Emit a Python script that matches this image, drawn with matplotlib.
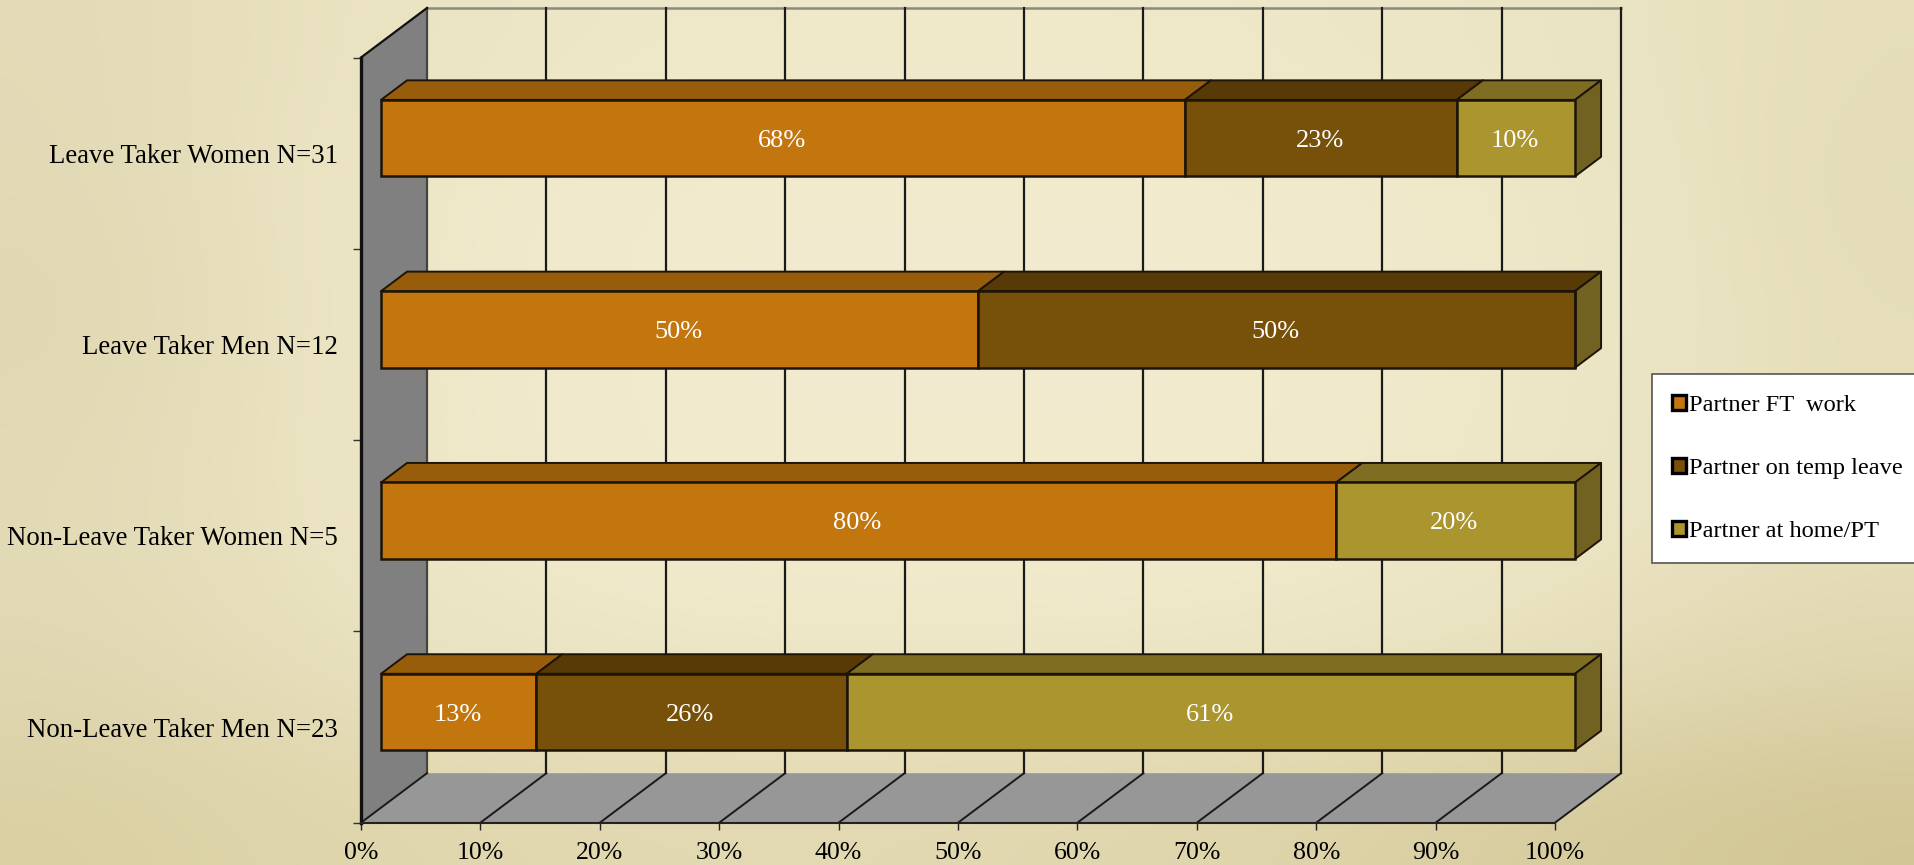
import numpy as np
import matplotlib
matplotlib.use("Agg")
import matplotlib.pyplot as plt
from matplotlib.patches import Polygon, Patch
from matplotlib.ticker import FixedLocator, FixedFormatter, NullFormatter
from matplotlib.colors import to_rgb

categories = ["Non-Leave Taker Men N=23", "Non-Leave Taker Women N=5",
              "Leave Taker Men N=12", "Leave Taker Women N=31"]
series_names = ["Partner FT  work", "Partner on temp leave", "Partner at home/PT"]
partner_ft = [13, 80, 50, 68]
partner_temp = [26, 0, 50, 23]
partner_home = [61, 20, 0, 10]
x_ticks = [0, 10, 20, 30, 40, 50, 60, 70, 80, 90, 100]

front_colors = ["#C4760E", "#77500A", "#AB952E"]
top_colors = ["#985D0B", "#583A06", "#7F6E22"]
side_color = "#716222"
edge = "#1c1408"
bg_rows = [
    ["#e3dbb7", "#e8e0bd", "#ece5c4", "#eee7c7", "#efe8c9", "#efe8c9", "#efe8c9", "#eee7c7", "#ede6c5", "#eae3c1", "#e6debb"],
    ["#e2d9b5", "#e9e1bf", "#efe8c9", "#f1eacd", "#f2ebce", "#f2ebce", "#f2ebce", "#f1eacd", "#efe8c9", "#ece5c3", "#e4dcb8"],
    ["#e0d7b2", "#e8e0bd", "#efe8c9", "#f1eacd", "#f2ebcf", "#f2ebcf", "#f2ebcf", "#f1eacd", "#efe8c9", "#ece5c4", "#e6debb"],
    ["#e2d9b5", "#e9e1be", "#efe8c9", "#f1eacd", "#f2ebce", "#f2ebce", "#f2ebce", "#f1eacd", "#efe8c8", "#ebe4c2", "#e6debb"],
    ["#e3dab6", "#e9e1be", "#eee7c7", "#f0e9cb", "#f1eacc", "#f1eacc", "#f1eacc", "#f0e9cb", "#eee7c6", "#eae2c0", "#e5ddb9"],
    ["#e0d7b2", "#e5ddb9", "#e9e2c0", "#ece5c4", "#ede6c6", "#ede6c6", "#ece5c5", "#ebe4c2", "#e8e0bd", "#e3dab5", "#dfd5ae"],
    ["#dad0a3", "#ded4a9", "#e0d7ae", "#e1d8b0", "#e2d9b2", "#e1d8b0", "#e0d6ad", "#ddd3a7", "#d9cea1", "#d5ca9a", "#d2c695"],
]

W, H = 1915, 865
plt.rcParams["font.family"] = ["Liberation Serif", "DejaVu Serif"]
fig = plt.figure(figsize=(W / 100, H / 100), dpi=100)

bg = fig.add_axes([0, 0, 1, 1], zorder=0)
bg.imshow([[to_rgb(c) for c in r] for r in bg_rows], aspect="auto", interpolation="bicubic")
bg.axis("off")

L, R, B, T = 361.0, 1555.0, 822.7, 57.5
ax = fig.add_axes([L / W, 1 - B / H, (R - L) / W, (B - T) / H], zorder=1)
ax.patch.set_alpha(0)
ax.set_xlim(0, 100)
ax.set_ylim(0, 4)

DX = 66 / (R - L) * 100      # full depth of the 3-D box, x units
DY = 49.5 / (B - T) * 4      # full depth of the 3-D box, y units
bar_front, bar_depth, bar_h = 0.303, 0.395, 0.40
line = "#1a1a1a"


def poly(pts, fc, ec="none", lw=0, z=2):
    ax.add_patch(Polygon(pts, closed=True, facecolor=fc, edgecolor=ec, linewidth=lw,
                         zorder=z, clip_on=False, joinstyle="round"))


# walls and floor
poly([(0, 0), (DX, DY), (DX, 4 + DY), (0, 4)], "#808080")
poly([(0, 0), (100, 0), (100 + DX, DY), (DX, DY)], "#979797")
for v in x_ticks:
    ax.plot([v + DX, v + DX], [DY, 4 + DY], color=line if v else "#444444",
            lw=1.6, zorder=2.2, clip_on=False)
    ax.plot([v, v + DX], [0, DY], color=line, lw=1.4, zorder=2.2, clip_on=False)
ax.plot([DX, 100 + DX], [4 + DY, 4 + DY], color="#8a8a84", lw=1.8, zorder=2.1, clip_on=False)
ax.plot([0, DX], [4, 4 + DY], color="#111111", lw=1.6, zorder=2.3, clip_on=False)

# stacked 3-D bars, each row normalised to 100 %
series = np.array([partner_ft, partner_temp, partner_home], dtype=float)
totals = series.sum(axis=0)
sx, sy = bar_front * DX, bar_front * DY
tx, ty = bar_depth * DX, bar_depth * DY
y_pos = np.arange(len(categories)) + 0.5 + sy
left = np.zeros(len(categories))
for k, raw in enumerate(series):
    vals = raw / totals * 100
    ax.barh(y_pos, vals, height=bar_h, left=left + sx, color=front_colors[k],
            edgecolor=edge, linewidth=1.8, zorder=4, clip_on=False)
    for i, v in enumerate(vals):
        if v <= 0:
            continue
        x0, x1 = left[i] + sx, left[i] + v + sx
        ytop = y_pos[i] + bar_h / 2
        poly([(x0, ytop), (x1, ytop), (x1 + tx, ytop + ty), (x0 + tx, ytop + ty)],
             top_colors[k], edge, 1.4, 3)
        ax.text((x0 + x1) / 2 - 0.1, y_pos[i], f"{int(raw[i])}%", color="white", fontsize=19,
                ha="center", va="center_baseline", zorder=6)
    left += vals
for i in range(len(categories)):
    x1 = left[i] + sx
    yb, yt = y_pos[i] - bar_h / 2, y_pos[i] + bar_h / 2
    poly([(x1, yb), (x1, yt), (x1 + tx, yt + ty), (x1 + tx, yb + ty)], side_color, edge, 1.4, 3.5)

# axes
for s in ("top", "right"):
    ax.spines[s].set_visible(False)
ax.spines["left"].set_linewidth(2.4)
ax.spines["left"].set_color("#111111")
ax.spines["bottom"].set_linewidth(1.5)
ax.spines["bottom"].set_color("#222222")
ax.spines["left"].set_zorder(2.5)
ax.spines["bottom"].set_zorder(2.5)
ax.set_xticks(x_ticks)
ax.set_xticklabels([f"{v}%" for v in x_ticks])
ax.set_yticks(range(5))
ax.yaxis.set_major_formatter(NullFormatter())
ax.yaxis.set_minor_locator(FixedLocator(np.arange(len(categories)) + 0.5))
ax.yaxis.set_minor_formatter(FixedFormatter(categories))
ax.tick_params(axis="x", length=5, width=1, color="#222222", labelsize=18.6, pad=9)
ax.tick_params(axis="y", which="major", length=6, width=1, color="#333333")
ax.tick_params(axis="y", which="minor", length=0, labelsize=19.4, pad=16.5)

handles = [Patch(facecolor=c, edgecolor="black", linewidth=2.4) for c in front_colors]
leg = ax.legend(handles, series_names, loc="lower left", bbox_to_anchor=(1651.7 / W, 1 - 562.7 / H),
                bbox_transform=fig.transFigure, frameon=True, fancybox=False, framealpha=1,
                facecolor="white", edgecolor="#555555", fontsize=17.6, handlelength=0.55,
                handleheight=0.55, handletextpad=0.12, labelspacing=1.72, borderpad=0.85,
                borderaxespad=0)
leg.get_frame().set_linewidth(1.2)
leg.set_zorder(10)

fig.savefig("out.png", dpi=100)
